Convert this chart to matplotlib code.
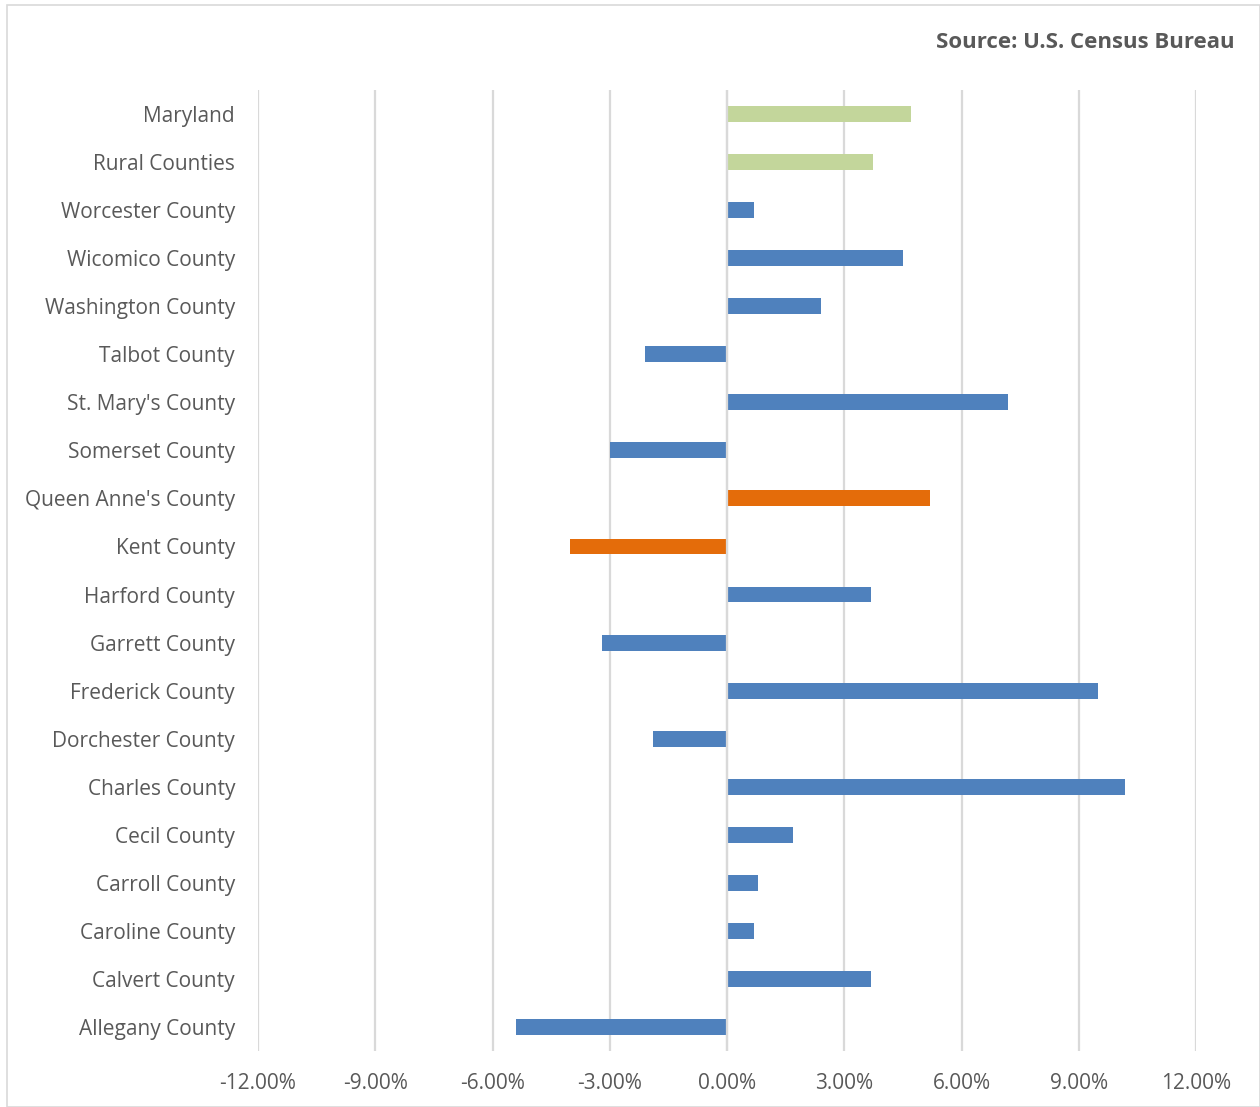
import matplotlib
matplotlib.use("Agg")
import matplotlib.pyplot as plt
from matplotlib.patches import Rectangle
from matplotlib.ticker import FuncFormatter

# data, top to bottom as in the chart
areas = ["Maryland", "Rural Counties", "Worcester County", "Wicomico County",
         "Washington County", "Talbot County", "St. Mary's County", "Somerset County",
         "Queen Anne's County", "Kent County", "Harford County", "Garrett County",
         "Frederick County", "Dorchester County", "Charles County", "Cecil County",
         "Carroll County", "Caroline County", "Calvert County", "Allegany County"]
change_pct = [4.71, 3.74, 0.69, 4.50, 2.41, -2.10, 7.19, -2.99, 5.19, -4.02,
              3.68, -3.20, 9.49, -1.89, 10.18, 1.69, 0.79, 0.69, 3.68, -5.40]
group = ["state", "rural"] + ["county"] * 6 + ["highlight", "highlight"] + ["county"] * 10

colors = {"state": "#C3D69B", "rural": "#C3D69B", "county": "#4F81BD", "highlight": "#E46C0A"}
ticks = [-12, -9, -6, -3, 0, 3, 6, 9, 12]

plt.rcParams["font.family"] = ["Open Sans", "DejaVu Sans"]

fig = plt.figure(figsize=(12.6, 11.07), dpi=100)
ax = fig.add_axes([258 / 1260, 1 - 1051 / 1107, (1196 - 258) / 1260, (1051 - 90) / 1107])

ypos = list(range(len(areas)))
ax.barh(ypos, change_pct, height=0.33, color=[colors[g] for g in group], zorder=2)
ax.axvline(0, color="#D9D9D9", lw=1.6, zorder=3)

ax.set_xlim(-12, 12)
ax.set_ylim(len(areas) - 0.5, -0.5)
ax.set_xticks(ticks)
ax.xaxis.set_major_formatter(FuncFormatter(lambda v, p: f"{v:.2f}%"))
ax.set_yticks(ypos)
ax.set_yticklabels(areas)
ax.grid(axis="x", color="#D9D9D9", lw=1.6, zorder=0)
ax.set_axisbelow(True)
for s in ax.spines.values():
    s.set_visible(False)
ax.tick_params(axis="both", length=0, colors="#595959", labelsize=15)
ax.tick_params(axis="x", pad=16)
ax.tick_params(axis="y", pad=16.5)

fig.text(1235 / 1260, 1 - 43 / 1107, "Source: U.S. Census Bureau", ha="right", va="center",
         fontsize=16, fontweight="bold", color="#595959")

fig.patches.append(Rectangle((7 / 1260, 0), 1 - 7 / 1260, 1 - 5 / 1107, transform=fig.transFigure,
                             fill=False, edgecolor="#D9D9D9", lw=1.2))

fig.savefig("out.png", dpi=100)
